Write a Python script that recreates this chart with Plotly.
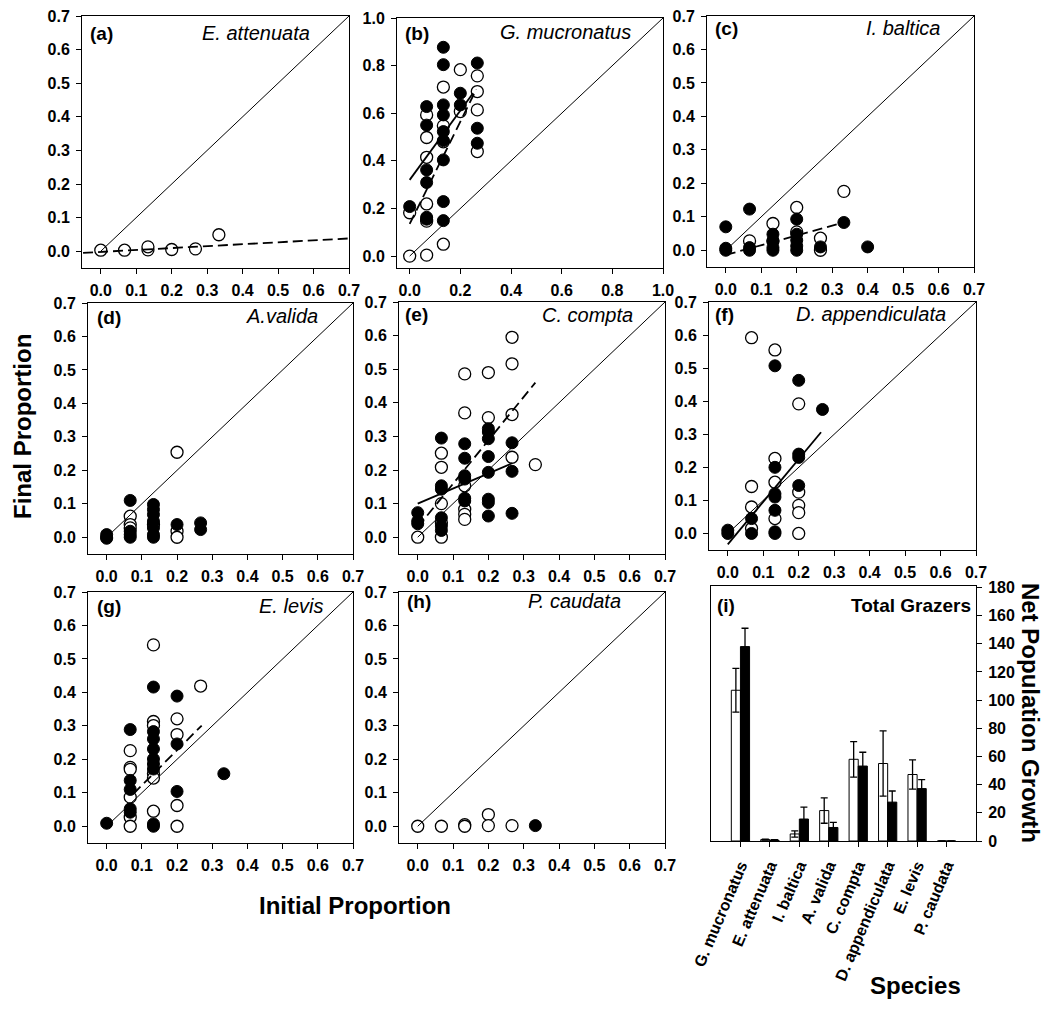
import plotly.graph_objects as go

W, H = 1048, 1017

# ---------------- data ----------------
# (a) E. attenuata
A_OPEN_X = [0.0, 0.067, 0.133, 0.133, 0.2, 0.267, 0.333]
A_OPEN_Y = [0.003, 0.003, 0.004, 0.013, 0.005, 0.007, 0.049]
A_FILLED_X = []
A_FILLED_Y = []
A_DASH_X = [-0.05, 0.7]
A_DASH_Y = [-0.005, 0.038]

# (b) G. mucronatus
B_OPEN_X = [0.0, 0.0, 0.067, 0.067, 0.067, 0.067, 0.067, 0.067, 0.133, 0.133, 0.133, 0.133,
            0.2, 0.2, 0.267, 0.267, 0.267, 0.267]
B_OPEN_Y = [0.0, 0.182, 0.593, 0.498, 0.415, 0.219, 0.147, 0.004, 0.71, 0.547, 0.48, 0.05,
            0.783, 0.607, 0.757, 0.691, 0.614, 0.439]
B_FILLED_X = [0.0, 0.067, 0.067, 0.067, 0.067, 0.067, 0.067,
              0.133, 0.133, 0.133, 0.133, 0.133, 0.133, 0.133, 0.133, 0.133,
              0.2, 0.2, 0.267, 0.267, 0.267]
B_FILLED_Y = [0.208, 0.628, 0.55, 0.362, 0.309, 0.163, 0.155,
              0.877, 0.804, 0.635, 0.593, 0.523, 0.485, 0.404, 0.229, 0.149,
              0.684, 0.635, 0.811, 0.537, 0.474]
B_DASH_X = [0.0, 0.263]
B_DASH_Y = [0.135, 0.70]
B_SOLID_X = [0.0, 0.25]
B_SOLID_Y = [0.32, 0.684]

# (c) I. baltica
C_OPEN_X = [0.067, 0.133, 0.133, 0.2, 0.2, 0.267, 0.267, 0.333]
C_OPEN_Y = [0.028, 0.08, 0.028, 0.128, 0.055, 0.036, 0.0, 0.176]
C_FILLED_X = [0.0, 0.0, 0.0, 0.067, 0.067, 0.067, 0.133, 0.133, 0.133, 0.133,
              0.2, 0.2, 0.2, 0.2, 0.2, 0.267, 0.333, 0.4]
C_FILLED_Y = [0.07, 0.006, 0.0, 0.123, 0.008, 0.0, 0.048, 0.028, 0.008, 0.0,
              0.093, 0.048, 0.03, 0.013, 0.0, 0.01, 0.083, 0.01]
C_DASH_X = [0.0, 0.333]
C_DASH_Y = [-0.014, 0.083]

# (d) A. valida
D_OPEN_X = [0.067, 0.067, 0.067, 0.133, 0.2, 0.2, 0.2]
D_OPEN_Y = [0.063, 0.038, 0.028, 0.038, 0.254, 0.018, 0.0]
D_FILLED_X = [0.0, 0.0, 0.0, 0.067, 0.067, 0.067, 0.067,
              0.133, 0.133, 0.133, 0.133, 0.133, 0.133, 0.133, 0.2, 0.267, 0.267]
D_FILLED_Y = [0.008, 0.0, -0.003, 0.11, 0.018, 0.008, 0.0,
              0.098, 0.083, 0.068, 0.048, 0.028, 0.008, 0.0, 0.038, 0.043, 0.023]

# (e) C. compta
E_OPEN_X = [0.0, 0.067, 0.067, 0.067, 0.067, 0.067, 0.133, 0.133, 0.133, 0.133, 0.133, 0.133,
            0.2, 0.2, 0.267, 0.267, 0.267, 0.267, 0.333]
E_OPEN_Y = [0.0, 0.25, 0.208, 0.1, 0.043, 0.0, 0.486, 0.37, 0.153, 0.083, 0.068, 0.053,
            0.49, 0.356, 0.595, 0.516, 0.365, 0.238, 0.216]
E_FILLED_X = [0.0, 0.0, 0.0, 0.067, 0.067, 0.067, 0.067, 0.067, 0.067,
              0.133, 0.133, 0.133, 0.133, 0.133, 0.133,
              0.2, 0.2, 0.2, 0.2, 0.2, 0.2, 0.2, 0.2, 0.267, 0.267, 0.267]
E_FILLED_Y = [0.073, 0.048, 0.04, 0.295, 0.153, 0.143, 0.058, 0.033, 0.02,
              0.278, 0.235, 0.183, 0.173, 0.116, 0.108,
              0.323, 0.313, 0.293, 0.24, 0.193, 0.113, 0.103, 0.063, 0.281, 0.196, 0.071]
E_DASH_X = [0.0, 0.333]
E_DASH_Y = [0.03, 0.46]
E_SOLID_X = [0.0, 0.267]
E_SOLID_Y = [0.10, 0.22]

# (f) D. appendiculata
F_OPEN_X = [0.067, 0.067, 0.067, 0.067, 0.133, 0.133, 0.133, 0.133, 0.2, 0.2, 0.2, 0.2, 0.2]
F_OPEN_Y = [0.592, 0.142, 0.08, 0.015, 0.555, 0.227, 0.155, 0.045, 0.392, 0.125, 0.085, 0.063, 0.0]
F_FILLED_X = [0.0, 0.0, 0.067, 0.067, 0.133, 0.133, 0.133, 0.133, 0.133, 0.133, 0.133,
              0.2, 0.2, 0.2, 0.2, 0.267]
F_FILLED_Y = [0.01, 0.0, 0.045, 0.0, 0.507, 0.2, 0.12, 0.11, 0.07, 0.005, 0.0,
              0.463, 0.24, 0.23, 0.145, 0.375]
F_SOLID_X = [0.0, 0.263]
F_SOLID_Y = [-0.033, 0.306]

# (g) E. levis
G_OPEN_X = [0.067, 0.067, 0.067, 0.067, 0.067, 0.067, 0.133, 0.133, 0.133, 0.133, 0.133, 0.133,
            0.2, 0.2, 0.2, 0.2, 0.267]
G_OPEN_Y = [0.226, 0.176, 0.17, 0.087, 0.027, 0.0, 0.542, 0.313, 0.301, 0.157, 0.144, 0.045,
            0.321, 0.274, 0.062, 0.0, 0.419]
G_FILLED_X = [0.0, 0.067, 0.067, 0.067, 0.067, 0.067,
              0.133, 0.133, 0.133, 0.133, 0.133, 0.133, 0.133, 0.133, 0.133,
              0.2, 0.2, 0.2, 0.333]
G_FILLED_Y = [0.009, 0.289, 0.137, 0.11, 0.052, 0.042,
              0.416, 0.283, 0.261, 0.231, 0.201, 0.186, 0.171, 0.007, 0.0,
              0.389, 0.246, 0.104, 0.157]
G_DASH_X = [0.076, 0.27]
G_DASH_Y = [0.097, 0.301]

# (h) P. caudata
H_OPEN_X = [0.0, 0.067, 0.133, 0.133, 0.2, 0.2, 0.267]
H_OPEN_Y = [0.0, 0.0, 0.005, 0.0, 0.035, 0.002, 0.002]
H_FILLED_X = [0.333]
H_FILLED_Y = [0.002]

# (i) Total grazers: net population growth
SPECIES = ["G. mucronatus", "E. attenuata", "I. baltica", "A. valida", "C. compta",
           "D. appendiculata", "E. levis", "P. caudata"]
OPEN_GROWTH = [107, 1.0, 5.0, 21.6, 58, 55, 47.2, 0]
OPEN_ERR = [15.5, 0.4, 2.2, 9, 12.6, 23.2, 10.4, 0]
FILLED_GROWTH = [138, 0.6, 15.6, 9.6, 53.2, 27.6, 37.2, 0]
FILLED_ERR = [13, 0.3, 8.4, 3.6, 9.8, 7.9, 6.4, 0]

PANEL_TAGS = ["(a)", "(b)", "(c)", "(d)", "(e)", "(f)", "(g)", "(h)", "(i)"]
PANEL_NAMES = ["E. attenuata", "G. mucronatus", "I. baltica", "A.valida", "C. compta",
               "D. appendiculata", "E. levis", "P. caudata", "Total Grazers"]

# ---------------- layout geometry (pixels) ----------------
BOXES = [  # left, right, top, bottom
    (82, 349, 16, 268), (397, 663, 18, 268), (707, 974, 16, 267),
    (88, 353, 303, 554), (399, 665, 302, 554), (709, 976, 302, 550),
    (88, 353, 592, 843), (399, 665, 592, 843), (711, 976, 586, 841),
]
LABEL_POS = [  # tag x, tag y, name right x, name y
    (88, 33, 312, 33), (403, 33, 633, 32), (713, 28, 942, 28),
    (95, 317, 320, 316), (403, 314, 635, 315), (713, 314, 948, 314),
    (95, 606, 325, 606), (405, 601, 623, 601), (715, 605, 973, 605),
]

FONT = "Liberation Sans"
fig = go.Figure()

scatter_data = [
    (A_OPEN_X, A_OPEN_Y, A_FILLED_X, A_FILLED_Y, [(A_DASH_X, A_DASH_Y, "dash")], 0.7),
    (B_OPEN_X, B_OPEN_Y, B_FILLED_X, B_FILLED_Y,
     [(B_DASH_X, B_DASH_Y, "dash"), (B_SOLID_X, B_SOLID_Y, "solid")], 1.0),
    (C_OPEN_X, C_OPEN_Y, C_FILLED_X, C_FILLED_Y, [(C_DASH_X, C_DASH_Y, "dash")], 0.7),
    (D_OPEN_X, D_OPEN_Y, D_FILLED_X, D_FILLED_Y, [], 0.7),
    (E_OPEN_X, E_OPEN_Y, E_FILLED_X, E_FILLED_Y,
     [(E_DASH_X, E_DASH_Y, "dash"), (E_SOLID_X, E_SOLID_Y, "solid")], 0.7),
    (F_OPEN_X, F_OPEN_Y, F_FILLED_X, F_FILLED_Y, [(F_SOLID_X, F_SOLID_Y, "solid")], 0.7),
    (G_OPEN_X, G_OPEN_Y, G_FILLED_X, G_FILLED_Y, [(G_DASH_X, G_DASH_Y, "dash")], 0.7),
    (H_OPEN_X, H_OPEN_Y, H_FILLED_X, H_FILLED_Y, [], 0.7),
]

tickfont = dict(family=FONT, size=16, color="black", weight="bold")
axis_common = dict(showline=True, linecolor="black", linewidth=1, mirror=True,
                   ticks="outside", ticklen=5, tickwidth=1, tickcolor="black",
                   showgrid=False, zeroline=False, tickfont=tickfont,
                   automargin=False, ticklabelstandoff=3)

layout_axes = {}
for i, (l, r, t, b) in enumerate(BOXES):
    n = i + 1
    sx = "" if n == 1 else str(n)
    layout_axes["xaxis" + sx] = dict(domain=[l / W, r / W], anchor="y" + sx, **axis_common)
    layout_axes["yaxis" + sx] = dict(domain=[1 - b / H, 1 - t / H], anchor="x" + sx, **axis_common)

for i, (ox, oy, fx, fy, fits, top) in enumerate(scatter_data):
    n = i + 1
    sx = "" if n == 1 else str(n)
    xr, yr = "x" + sx, "y" + sx
    # open circles
    fig.add_trace(go.Scatter(x=ox, y=oy, mode="markers", xaxis=xr, yaxis=yr,
                             marker=dict(size=12, color="white",
                                         line=dict(color="black", width=1.3)),
                             showlegend=False, hoverinfo="skip"))
    # filled circles
    fig.add_trace(go.Scatter(x=fx, y=fy, mode="markers", xaxis=xr, yaxis=yr,
                             marker=dict(size=12, color="black",
                                         line=dict(color="black", width=1)),
                             showlegend=False, hoverinfo="skip"))
    # 1:1 line
    fig.add_trace(go.Scatter(x=[0, top], y=[0, top], mode="lines", xaxis=xr, yaxis=yr,
                             line=dict(color="black", width=1), showlegend=False,
                             hoverinfo="skip"))
    for (lx, ly, style) in fits:
        fig.add_trace(go.Scatter(x=lx, y=ly, mode="lines", xaxis=xr, yaxis=yr,
                                 line=dict(color="black", width=1.8,
                                           dash="10px,5px" if style == "dash" else "solid"),
                                 showlegend=False, hoverinfo="skip"))
    if top == 1.0:
        ticks = [0.0, 0.2, 0.4, 0.6, 0.8, 1.0]
        rng = [-0.05, 1.0]
    else:
        ticks = [0.0, 0.1, 0.2, 0.3, 0.4, 0.5, 0.6, 0.7]
        rng = [-0.053, 0.7]
    layout_axes["xaxis" + sx].update(range=rng, tickvals=ticks, tickformat=".1f")
    layout_axes["yaxis" + sx].update(range=[-0.05, top], tickvals=ticks, tickformat=".1f")

# bar panel (i)
fig.add_trace(go.Bar(x=SPECIES, y=OPEN_GROWTH, xaxis="x9", yaxis="y9",
                     marker=dict(color="white", line=dict(color="black", width=1)),
                     error_y=dict(type="data", array=OPEN_ERR, color="black",
                                  thickness=1.3, width=3.5),
                     showlegend=False, hoverinfo="skip"))
fig.add_trace(go.Bar(x=SPECIES, y=FILLED_GROWTH, xaxis="x9", yaxis="y9",
                     marker=dict(color="black", line=dict(color="black", width=1)),
                     error_y=dict(type="data", array=FILLED_ERR, color="black",
                                  thickness=1.3, width=3.5),
                     showlegend=False, hoverinfo="skip"))
layout_axes["xaxis9"].update(type="category", range=[-1, 8], tickangle=-67,
                             tickfont=dict(family=FONT, size=16, color="black", weight="bold"))
layout_axes["yaxis9"].update(range=[0, 181], dtick=20, side="right", tickformat="d")

annotations = []
for i, (tx, ty, nx, ny) in enumerate(LABEL_POS):
    annotations.append(dict(x=tx / W, y=1 - ty / H, xref="paper", yref="paper",
                            text="<b>%s</b>" % PANEL_TAGS[i], showarrow=False,
                            xanchor="left", yanchor="middle",
                            font=dict(family=FONT, size=19, color="black")))
    name = PANEL_NAMES[i]
    txt = "<b>%s</b>" % name if i == 8 else "<i>%s</i>" % name
    annotations.append(dict(x=nx / W, y=1 - ny / H, xref="paper", yref="paper",
                            text=txt, showarrow=False, xanchor="right", yanchor="middle",
                            font=dict(family=FONT, size=20 if i < 8 else 19, color="black")))

title_font = dict(family=FONT, size=24, color="black", weight="bold")
annotations += [
    dict(x=22 / W, y=1 - 427 / H, xref="paper", yref="paper", text="Final Proportion",
         textangle=-90, showarrow=False, font=title_font, xanchor="center", yanchor="middle"),
    dict(x=355 / W, y=1 - 905 / H, xref="paper", yref="paper", text="Initial Proportion",
         showarrow=False, font=title_font, xanchor="center", yanchor="middle"),
    dict(x=915 / W, y=1 - 985 / H, xref="paper", yref="paper", text="Species",
         showarrow=False, font=title_font, xanchor="center", yanchor="middle"),
    dict(x=1031 / W, y=1 - 713 / H, xref="paper", yref="paper", text="Net Population Growth",
         textangle=90, showarrow=False, font=title_font, xanchor="center", yanchor="middle"),
]

fig.update_layout(width=W, height=H, margin=dict(l=0, r=0, t=0, b=0, autoexpand=False),
                  paper_bgcolor="white", plot_bgcolor="white",
                  barmode="group", bargap=0.38, bargroupgap=0.0,
                  annotations=annotations, **layout_axes)

fig.write_html("out.html")
